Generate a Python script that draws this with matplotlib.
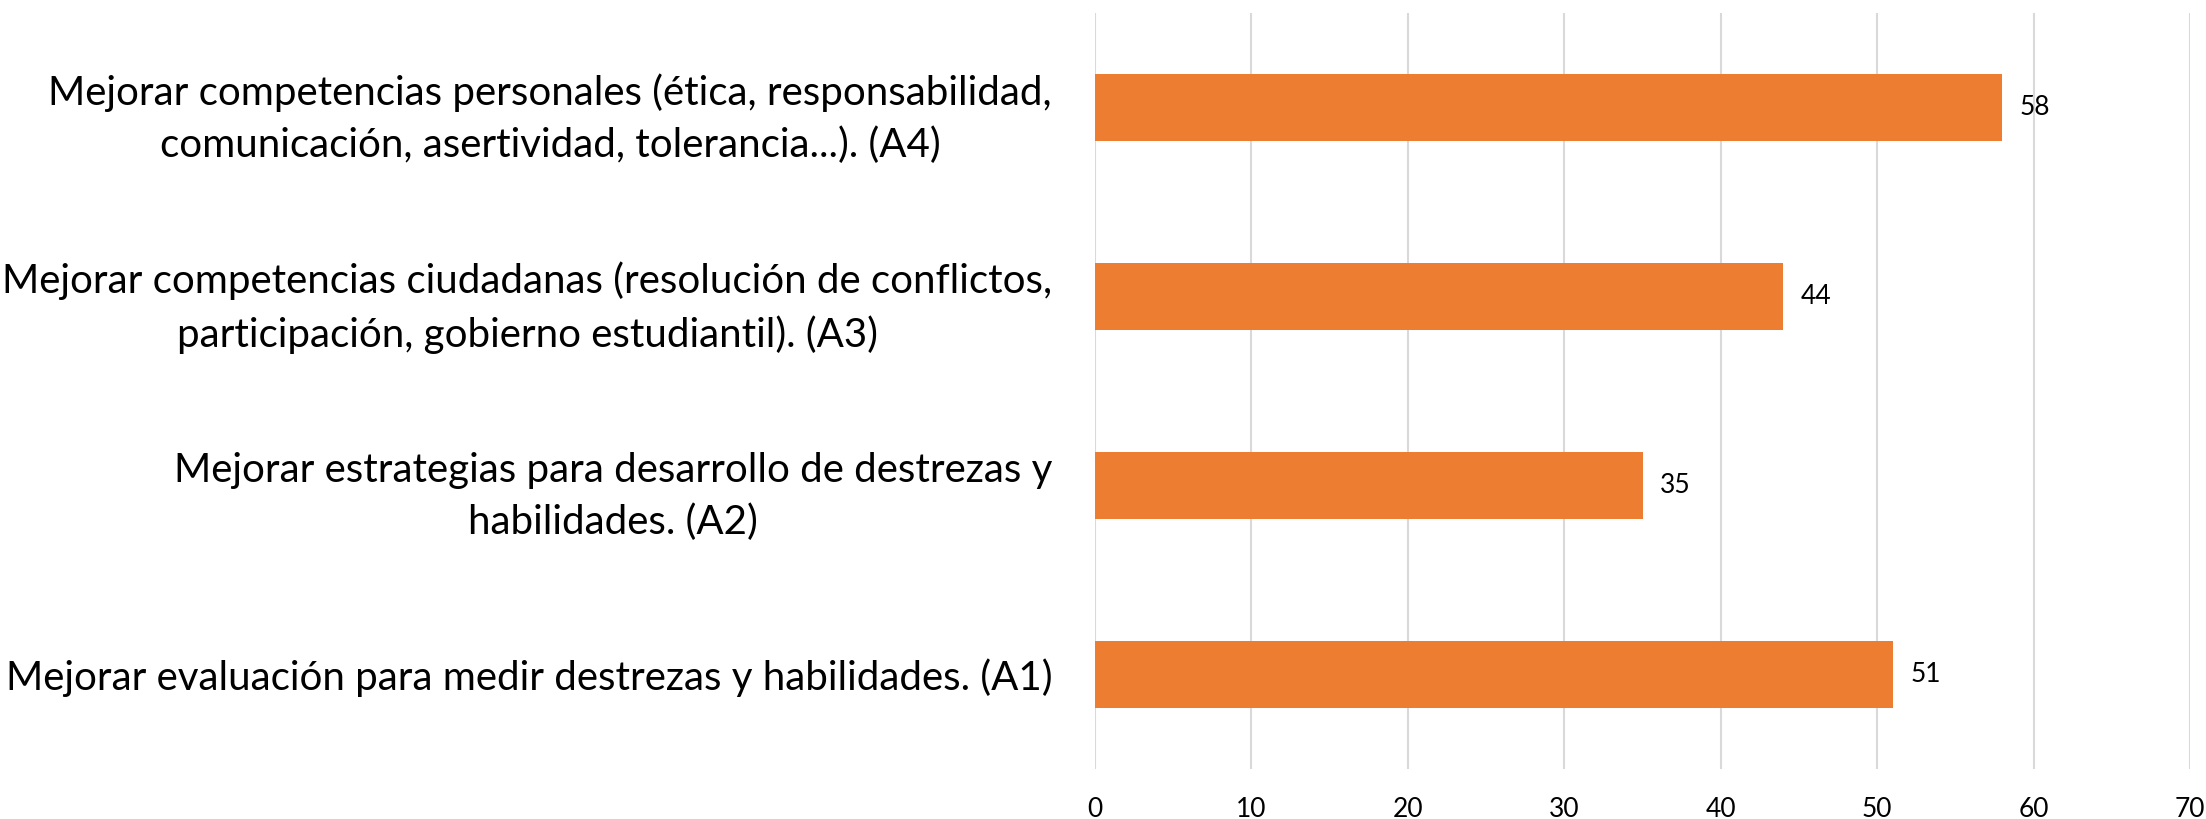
import matplotlib.pyplot as plt

# data (bottom to top)
labels = [
    'Mejorar evaluación para medir destrezas y habilidades. (A1)',
    'Mejorar estrategias para desarrollo de destrezas y\nhabilidades. (A2)',
    'Mejorar competencias ciudadanas (resolución de conflictos,\nparticipación, gobierno estudiantil). (A3)',
    'Mejorar competencias personales (ética, responsabilidad,\ncomunicación, asertividad, tolerancia...). (A4)',
]
values = [51, 35, 44, 58]
xticks = [0, 10, 20, 30, 40, 50, 60, 70]

plt.rcParams['font.family'] = ['Lato', 'DejaVu Sans']

fig = plt.figure(figsize=(22.06, 8.19), dpi=100)
ax = fig.add_axes([0.4964, 0.061, 0.4964, 0.9231])

y = range(len(values))
bars = ax.barh(y, values, height=0.35, color='#ED7D31', zorder=3)
for b, v in zip(bars, values):
    ax.text(b.get_width() + 1.1, b.get_y() + b.get_height() / 2, str(v),
            va='center', ha='left', fontsize=19, color='#000000')

ax.set_xlim(0, 70)
ax.set_ylim(-0.5, len(values) - 0.5)
ax.set_xticks(xticks)
ax.set_yticks(list(y))
ax.set_yticklabels(labels, fontsize=29, multialignment='center', linespacing=1.48)
ax.tick_params(axis='x', labelsize=19, length=0, pad=20)
ax.tick_params(axis='y', length=0, pad=31)
ax.grid(axis='x', color='#D9D9D9', linewidth=1.5, zorder=0)
for s in ax.spines.values():
    s.set_visible(False)

fig.savefig('out.png', dpi=100)
